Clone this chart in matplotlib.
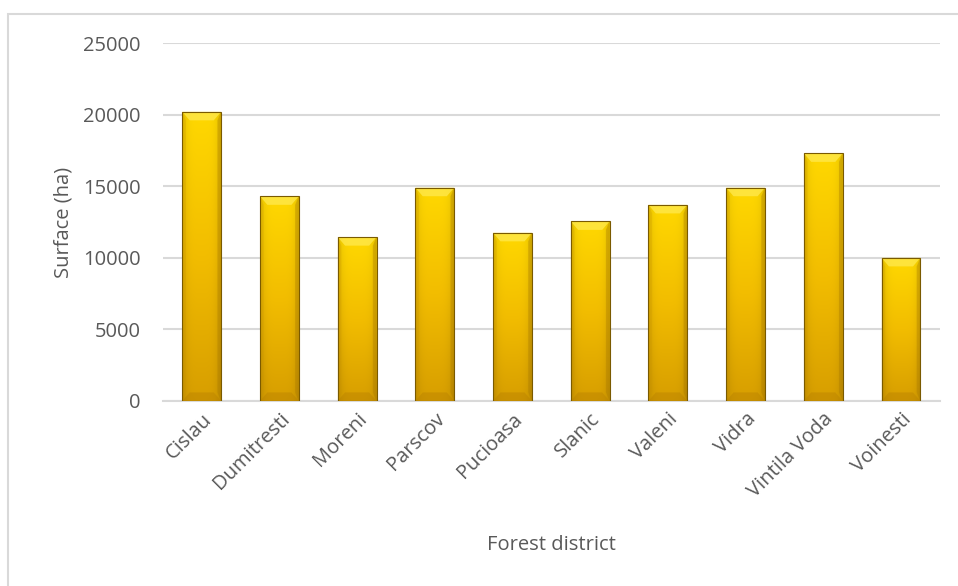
import matplotlib.pyplot as plt
import matplotlib.patches as mpatches
import numpy as np
from matplotlib.colors import LinearSegmentedColormap

districts = ['Cislau', 'Dumitresti', 'Moreni', 'Parscov', 'Pucioasa',
             'Slanic', 'Valeni', 'Vidra', 'Vintila Voda', 'Voinesti']
surface = [20200, 14300, 11450, 14900, 11750, 12550, 13700, 14900, 17300, 10000]

plt.rcParams['font.family'] = ['Open Sans', 'DejaVu Sans']
text_col = '#595959'
grid_col = '#d9d9d9'

fig = plt.figure(figsize=(9.58, 5.86), dpi=100)
ax = fig.add_axes([0.170, 0.3157, 0.811, 0.6109])

# outer chart border
fig.patches.append(mpatches.Rectangle((8 / 958, -0.05), 1.2, 1 - 14 / 586 + 0.05,
                                      transform=fig.transFigure, fill=False,
                                      edgecolor='#d9d9d9', linewidth=1.5))

x = np.arange(len(districts))
width = 0.5
bars = ax.bar(x, surface, width=width, color='none', edgecolor='#7a5a00',
              linewidth=0.8, zorder=4)

# gold gradient: lighter at the top, darker towards the base
vert = LinearSegmentedColormap.from_list('gold', ['#d79e00', '#f2bd00', '#ffd800'])
ny, nx = 200, 60
yy = np.linspace(0, 1, ny)[:, None]
xx = np.linspace(-1, 1, nx)[None, :]
shade = 1 - 0.12 * np.abs(xx) ** 4
for rect in bars:
    x0, y0 = rect.get_x(), rect.get_y()
    w, h = rect.get_width(), rect.get_height()
    rgb = vert(np.repeat(yy, nx, axis=1))[..., :3] * shade[..., None]
    im = ax.imshow(rgb, extent=[x0, x0 + w, y0, y0 + h], origin='lower',
                   aspect='auto', zorder=3, interpolation='bilinear')
    im.set_clip_path(rect)
    # bevel: top highlight, bottom and side shadows
    bx = w * 0.19
    by = 600
    top = h + y0
    ax.add_patch(mpatches.Polygon([(x0, top), (x0 + w, top), (x0 + w - bx, top - by),
                                   (x0 + bx, top - by)], closed=True,
                                  facecolor='#ffe84a', edgecolor='none', alpha=0.8, zorder=3.5))
    ax.add_patch(mpatches.Polygon([(x0, y0), (x0 + w, y0), (x0 + w - bx, y0 + by),
                                   (x0 + bx, y0 + by)], closed=True,
                                  facecolor='#b98200', edgecolor='none', alpha=0.45, zorder=3.5))
    ax.add_patch(mpatches.Polygon([(x0 + w, y0), (x0 + w, top), (x0 + w - bx * 0.5, top - by),
                                   (x0 + w - bx * 0.5, y0 + by)], closed=True,
                                  facecolor='#a87800', edgecolor='none', alpha=0.35, zorder=3.5))
    ax.add_patch(mpatches.Polygon([(x0, y0), (x0, top), (x0 + bx * 0.5, top - by),
                                   (x0 + bx * 0.5, y0 + by)], closed=True,
                                  facecolor='#c99300', edgecolor='none', alpha=0.25, zorder=3.5))

ax.set_xlim(-0.5, len(districts) - 0.5)
ax.set_ylim(0, 25000)
ax.set_yticks(np.arange(0, 25001, 5000))
ax.yaxis.grid(True, color=grid_col, linewidth=1.5)
ax.set_axisbelow(True)
for side in ['top', 'right', 'left']:
    ax.spines[side].set_visible(False)
ax.spines['bottom'].set_color(grid_col)
ax.spines['bottom'].set_linewidth(1.5)
ax.tick_params(length=0, colors=text_col, labelsize=14.5)
ax.tick_params(axis='y', pad=16)
ax.tick_params(axis='x', pad=6)
ax.set_xticks(x)
ax.set_xticklabels(districts, rotation=45, ha='right', rotation_mode='anchor')
ax.set_ylabel('Surface (ha)', color=text_col, fontsize=14.5)
ax.set_xlabel('Forest district', color=text_col, fontsize=14.5)
ax.yaxis.set_label_coords(-0.115, 0.5)
ax.xaxis.set_label_coords(0.50, -0.375)

fig.savefig('out.png', dpi=100)
